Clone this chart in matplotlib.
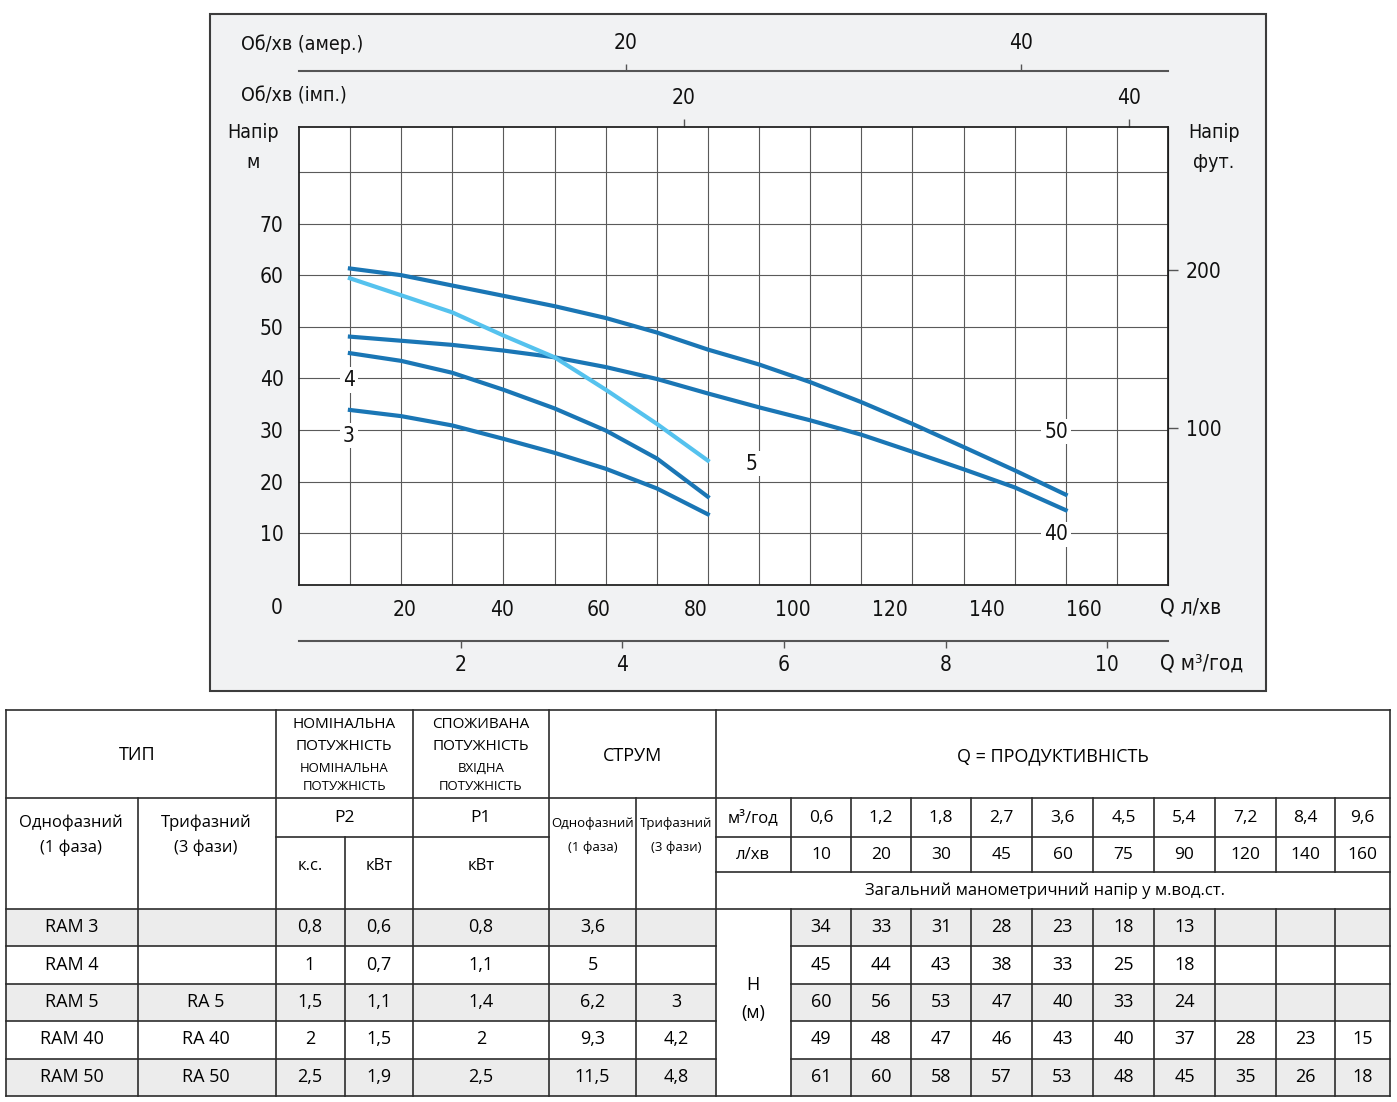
import matplotlib
matplotlib.use('Agg')
import matplotlib.pyplot as plt
import matplotlib.transforms as mtransforms
from matplotlib.patches import Rectangle
import numpy as np

# pump curves: flow in l/min, head in m
flow_lpm = [10.5, 21.1, 31.6, 42.2, 52.7, 63.3, 73.8, 84.3,
            94.9, 105.4, 116.0, 126.5, 137.1, 147.6, 158.1]
ram3 = [33.9, 32.7, 30.9, 28.3, 25.6, 22.5, 18.7, 13.7]
ram4 = [44.9, 43.4, 41.1, 37.8, 34.2, 29.9, 24.5, 17.1]
ram5 = [59.4, 56.1, 52.8, 48.3, 44.1, 37.8, 31.2, 24.1]
ram40 = [48.1, 47.3, 46.5, 45.4, 44.1, 42.2, 39.9, 37.1,
         34.4, 31.9, 29.1, 25.8, 22.4, 18.9, 14.5]
ram50 = [61.3, 60.0, 58.0, 56.0, 54.0, 51.7, 48.9, 45.6,
         42.7, 39.3, 35.4, 31.2, 26.7, 22.2, 17.5]

# curve labels (text, flow, head)
curve_labels = [('4', 10.3, 39.7), ('3', 10.3, 28.9), ('5', 93.4, 23.5),
                ('50', 156.1, 29.7), ('40', 156.1, 9.8)]

# axis ticks
lpm_ticks = [20, 40, 60, 80, 100, 120, 140, 160]
m_ticks = [10, 20, 30, 40, 50, 60, 70]
ft_ticks = [100, 200]
m3h_ticks = [2, 4, 6, 8, 10]
us_gpm_pos = [67.4, 148.9]      # where the "20" / "40" US gpm marks sit (l/min)
imp_gpm_pos = [79.4, 171.1]     # same for imperial gpm
gpm_labels = ['20', '40']

# table
models_1ph = ['RAM 3', 'RAM 4', 'RAM 5', 'RAM 40', 'RAM 50']
models_3ph = ['', '', 'RA 5', 'RA 40', 'RA 50']
p2_hp = ['0,8', '1', '1,5', '2', '2,5']
p2_kw = ['0,6', '0,7', '1,1', '1,5', '1,9']
p1_kw = ['0,8', '1,1', '1,4', '2', '2,5']
amp_1ph = ['3,6', '5', '6,2', '9,3', '11,5']
amp_3ph = ['', '', '3', '4,2', '4,8']
q_m3h = ['0,6', '1,2', '1,8', '2,7', '3,6', '4,5', '5,4', '7,2', '8,4', '9,6']
q_lpm = ['10', '20', '30', '45', '60', '75', '90', '120', '140', '160']
h_ram3 = [34, 33, 31, 28, 23, 18, 13]
h_ram4 = [45, 44, 43, 38, 33, 25, 18]
h_ram5 = [60, 56, 53, 47, 40, 33, 24]
h_ram40 = [49, 48, 47, 46, 43, 40, 37, 28, 23, 15]
h_ram50 = [61, 60, 58, 57, 53, 48, 45, 35, 26, 18]

W, H = 1397, 1102
BLUE = '#1a76b5'
LIGHT = '#55c2ee'
PANEL = '#f1f2f3'
GRID = '#5a5a5a'
LINE = '#2c2c2c'
SHADE = '#ececec'
TFONT = ['Open Sans', 'DejaVu Sans']

plt.rcParams['font.family'] = ['DejaVu Sans']
plt.rcParams['font.stretch'] = 'condensed'
plt.rcParams['text.color'] = '#111111'
plt.rcParams['xtick.color'] = '#555555'
plt.rcParams['ytick.color'] = '#555555'
plt.rcParams['xtick.labelcolor'] = '#111111'
plt.rcParams['ytick.labelcolor'] = '#111111'

fig = plt.figure(figsize=(W / 100, H / 100), dpi=100)
fig.patch.set_facecolor('white')

# layer in pixel coordinates for panel, free texts and the table
lay = fig.add_axes([0, 0, 1, 1], zorder=-1)
lay.set_xlim(0, W)
lay.set_ylim(H, 0)
lay.axis('off')
lay.add_patch(Rectangle((210, 14), 1056, 677, facecolor=PANEL,
                        edgecolor='#3c3c3c', lw=1.5))

# ---- chart ----
ax = fig.add_axes([299 / W, 1 - 585 / H, 869 / W, 458 / H])
ax.set_facecolor('white')
XMAX, YMAX = 179.2, 88.7
ax.set_xlim(0, XMAX)
ax.set_ylim(0, YMAX)
ax.set_xticks(np.linspace(0, XMAX, 18)[1:-1], minor=True)
ax.set_yticks([80], minor=True)
ax.set_xticks(lpm_ticks)
ax.set_yticks(m_ticks)
ax.grid(axis='x', which='minor', color=GRID, lw=0.8)
ax.grid(axis='y', which='both', color=GRID, lw=0.8)
ax.tick_params(which='both', length=0)
ax.tick_params(which='major', labelsize=15)
ax.tick_params(axis='x', pad=11)
ax.tick_params(axis='y', pad=11)
for s in ax.spines.values():
    s.set_color('#222222')
    s.set_linewidth(1.3)
shift = mtransforms.ScaledTranslation(0.09, 0, fig.dpi_scale_trans)
for lbl in ax.get_xticklabels():
    lbl.set_transform(lbl.get_transform() + shift)

ax.plot(flow_lpm[:len(ram3)], ram3, color=BLUE, lw=3)
ax.plot(flow_lpm[:len(ram4)], ram4, color=BLUE, lw=3)
ax.plot(flow_lpm, ram40, color=BLUE, lw=3)
ax.plot(flow_lpm, ram50, color=BLUE, lw=3)
ax.plot(flow_lpm[:len(ram5)], ram5, color=LIGHT, lw=3)

for txt, x, y in curve_labels:
    ax.text(x, y, txt, ha='center', va='center', fontsize=15,
            bbox=dict(facecolor='white', edgecolor='none', pad=2))

# top scales
sec_us = ax.secondary_xaxis((585 - 71) / 458)
sec_us.set_xticks(us_gpm_pos, labels=gpm_labels)
sec_us.tick_params(length=5, width=1, labelsize=15, pad=8)
sec_us.spines['top'].set_color('#555555')
sec_us.spines['top'].set_linewidth(1.5)

sec_imp = ax.secondary_xaxis('top')
sec_imp.set_xticks(imp_gpm_pos, labels=gpm_labels)
sec_imp.tick_params(length=6, width=1, labelsize=15, pad=8)
sec_imp.spines['top'].set_visible(False)

# bottom m3/h scale
sec_m3 = ax.secondary_xaxis(-(641 - 585) / 458,
                            functions=(lambda q: q * 0.06, lambda q: q / 0.06))
sec_m3.set_xticks(m3h_ticks)
sec_m3.tick_params(length=5, width=1, labelsize=15, pad=5)
sec_m3.spines['bottom'].set_color('#555555')
sec_m3.spines['bottom'].set_linewidth(1.5)

# right feet scale
sec_ft = ax.secondary_yaxis('right',
                            functions=(lambda m: m * 3.28084, lambda f: f / 3.28084))
sec_ft.set_yticks(ft_ticks)
sec_ft.tick_params(length=7, width=1, labelsize=15, pad=6)

lay.text(241, 44, 'Об/хв (амер.)', ha='left', va='center', fontsize=14)
lay.text(241, 96, 'Об/хв (імп.)', ha='left', va='center', fontsize=14)
lay.text(253, 133, 'Напір', ha='center', va='center', fontsize=14)
lay.text(253, 162, 'м', ha='center', va='center', fontsize=14)
lay.text(1214, 133, 'Напір', ha='center', va='center', fontsize=14)
lay.text(1214, 162, 'фут.', ha='center', va='center', fontsize=14)
lay.text(277, 608, '0', ha='center', va='center', fontsize=15)
lay.text(1160, 608, 'Q л/хв', ha='left', va='center', fontsize=15)
lay.text(1160, 663, 'Q м³/год', ha='left', va='center', fontsize=15)

# ---- table ----
def hline(y, x0, x1):
    lay.plot([x0, x1], [y, y], color=LINE, lw=1.2, solid_capstyle='projecting')


def vline(x, y0, y1):
    lay.plot([x, x], [y0, y1], color=LINE, lw=1.2, solid_capstyle='projecting')


def put(x, y, s, size=13, **kw):
    lay.text(x, y, s, ha='center', va='center', fontsize=size,
             family=TFONT, stretch='normal', color='#000000', **kw)


row_y = [908.5, 946, 983.5, 1020.5, 1058.5, 1096]
cols_r = [791, 851, 911, 971, 1032, 1093, 1154, 1215, 1276, 1335, 1390]

for i in (0, 2, 4):
    lay.add_patch(Rectangle((6, row_y[i]), 710, row_y[i + 1] - row_y[i],
                            facecolor=SHADE, edgecolor='none'))
    lay.add_patch(Rectangle((791, row_y[i]), 599, row_y[i + 1] - row_y[i],
                            facecolor=SHADE, edgecolor='none'))

for y in (710, 798, 908.5, 1096):
    hline(y, 6, 1390)
hline(836.5, 275.5, 549)
hline(836.5, 716, 1390)
hline(872, 716, 1390)
for y in row_y[1:-1]:
    hline(y, 6, 716)
    hline(y, 791, 1390)
for x in (6, 275.5, 413, 549, 716, 1390):
    vline(x, 710, 1096)
for x in (137.5, 636):
    vline(x, 798, 1096)
vline(344.5, 836.5, 1096)
for x in cols_r[:-1]:
    vline(x, 798, 872)
    vline(x, 908.5, 1096)

# headers
put(137, 755, 'ТИП', 13)
put(344, 725, 'НОМІНАЛЬНА', 11)
put(344, 746, 'ПОТУЖНІСТЬ', 11)
put(344, 768, 'НОМІНАЛЬНА', 9.5)
put(344, 787, 'ПОТУЖНІСТЬ', 9.5)
put(481, 725, 'СПОЖИВАНА', 11)
put(481, 746, 'ПОТУЖНІСТЬ', 11)
put(481, 768, 'ВХІДНА', 9.5)
put(481, 787, 'ПОТУЖНІСТЬ', 9.5)
put(632, 756, 'СТРУМ', 13)
put(1053, 756, 'Q = ПРОДУКТИВНІСТЬ', 13)

put(71, 823, 'Однофазний', 12)
put(71, 848, '(1 фаза)', 12)
put(206, 823, 'Трифазний', 12)
put(206, 848, '(3 фази)', 12)
put(344, 818, 'P2', 12.5)
put(481, 818, 'P1', 12.5)
put(310, 866, 'к.с.', 12)
put(379, 866, 'кВт', 12)
put(481, 866, 'кВт', 12)
put(592.5, 824, 'Однофазний', 9.5)
put(592.5, 848, '(1 фаза)', 9.5)
put(676, 824, 'Трифазний', 9.5)
put(676, 848, '(3 фази)', 9.5)
put(753, 818, 'м³/год', 12)
put(753, 855, 'л/хв', 12)
put(1045, 891, 'Загальний манометричний напір у м.вод.ст.', 12)
put(753, 985, 'H', 13)
put(753, 1013, '(м)', 13)

for j in range(len(q_m3h)):
    cx = (cols_r[j] + cols_r[j + 1]) / 2
    put(cx, 818, q_m3h[j], 12.5)
    put(cx, 855, q_lpm[j], 12.5)

left_cols = [models_1ph, models_3ph, p2_hp, p2_kw, p1_kw, amp_1ph, amp_3ph]
left_centers = [71.5, 206, 310, 379, 481, 592.5, 676]
heads = [h_ram3, h_ram4, h_ram5, h_ram40, h_ram50]
for i in range(len(models_1ph)):
    cy = (row_y[i] + row_y[i + 1]) / 2
    for col, cx in zip(left_cols, left_centers):
        put(cx, cy, col[i])
    for j, v in enumerate(heads[i]):
        put((cols_r[j] + cols_r[j + 1]) / 2, cy, str(v))

fig.savefig('out.png', dpi=100, facecolor='white')
